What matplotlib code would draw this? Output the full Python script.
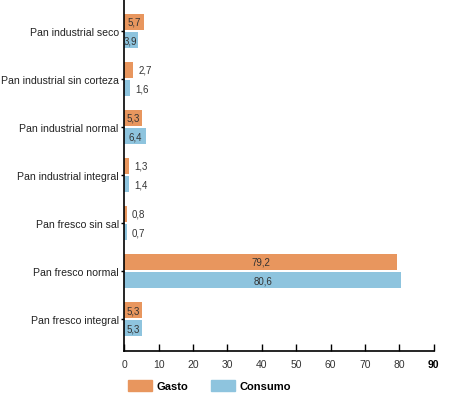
import matplotlib.pyplot as plt
from matplotlib.patches import Patch

plt.rcParams['font.family'] = ['Liberation Sans Narrow', 'Liberation Sans', 'DejaVu Sans']

categorias = ['Pan fresco integral', 'Pan fresco normal', 'Pan fresco sin sal',
              'Pan industrial integral', 'Pan industrial normal',
              'Pan industrial sin corteza', 'Pan industrial seco']
gasto = [5.3, 79.2, 0.8, 1.3, 5.3, 2.7, 5.7]
consumo = [5.3, 80.6, 0.7, 1.4, 6.4, 1.6, 3.9]
xticks = [0, 10, 20, 30, 40, 50, 60, 70, 80, 90]

c_gasto = '#E8965E'
c_consumo = '#8EC4DE'

fig = plt.figure(figsize=(4.5, 4.02), dpi=100)
ax = fig.add_axes([0.276, 0.124, 0.688, 0.876])

h = 0.34
off = 0.19
pos = list(range(len(categorias)))
ax.barh([p + off for p in pos], gasto, height=h, color=c_gasto)
ax.barh([p - off for p in pos], consumo, height=h, color=c_consumo)

def etiqueta(v, y):
    txt = f'{v:.1f}'.replace('.', ',')
    if v >= 3:
        ax.text(v / 2, y, txt, ha='center', va='center', fontsize=7, color='#333333')
    else:
        ax.text(v + 1.5, y, txt, ha='left', va='center', fontsize=7, color='#333333')

for p, g, c in zip(pos, gasto, consumo):
    etiqueta(g, p + off)
    etiqueta(c, p - off)

ax.set_xlim(0, 90)
ax.set_ylim(-0.667, 6.667)
ax.set_yticks(pos)
ax.set_yticklabels(categorias, fontsize=7.6, color='#222222', family=['Liberation Sans', 'DejaVu Sans'])
ax.set_xticks(xticks)
ax.set_xticklabels([str(t) for t in xticks], fontsize=7.5, color='#333333')
ax.get_xticklabels()[-1].set_fontweight('bold')
ax.get_xticklabels()[-1].set_color('black')
ax.tick_params(axis='x', direction='in', length=5, width=1, pad=6)
ax.tick_params(axis='y', direction='out', length=2, width=1, pad=2)
for s in ['top', 'right']:
    ax.spines[s].set_visible(False)
for s in ['left', 'bottom']:
    ax.spines[s].set_linewidth(1.2)

fig.legend(handles=[Patch(color=c_gasto, label='Gasto'), Patch(color=c_consumo, label='Consumo')],
           loc='lower left', bbox_to_anchor=(0.262, 0.0), ncol=2, frameon=False,
           prop={'size': 8, 'weight': 'bold'}, handlelength=2.2, handleheight=1.2,
           columnspacing=2.0, handletextpad=0.4)

fig.savefig('out.png', dpi=100)
